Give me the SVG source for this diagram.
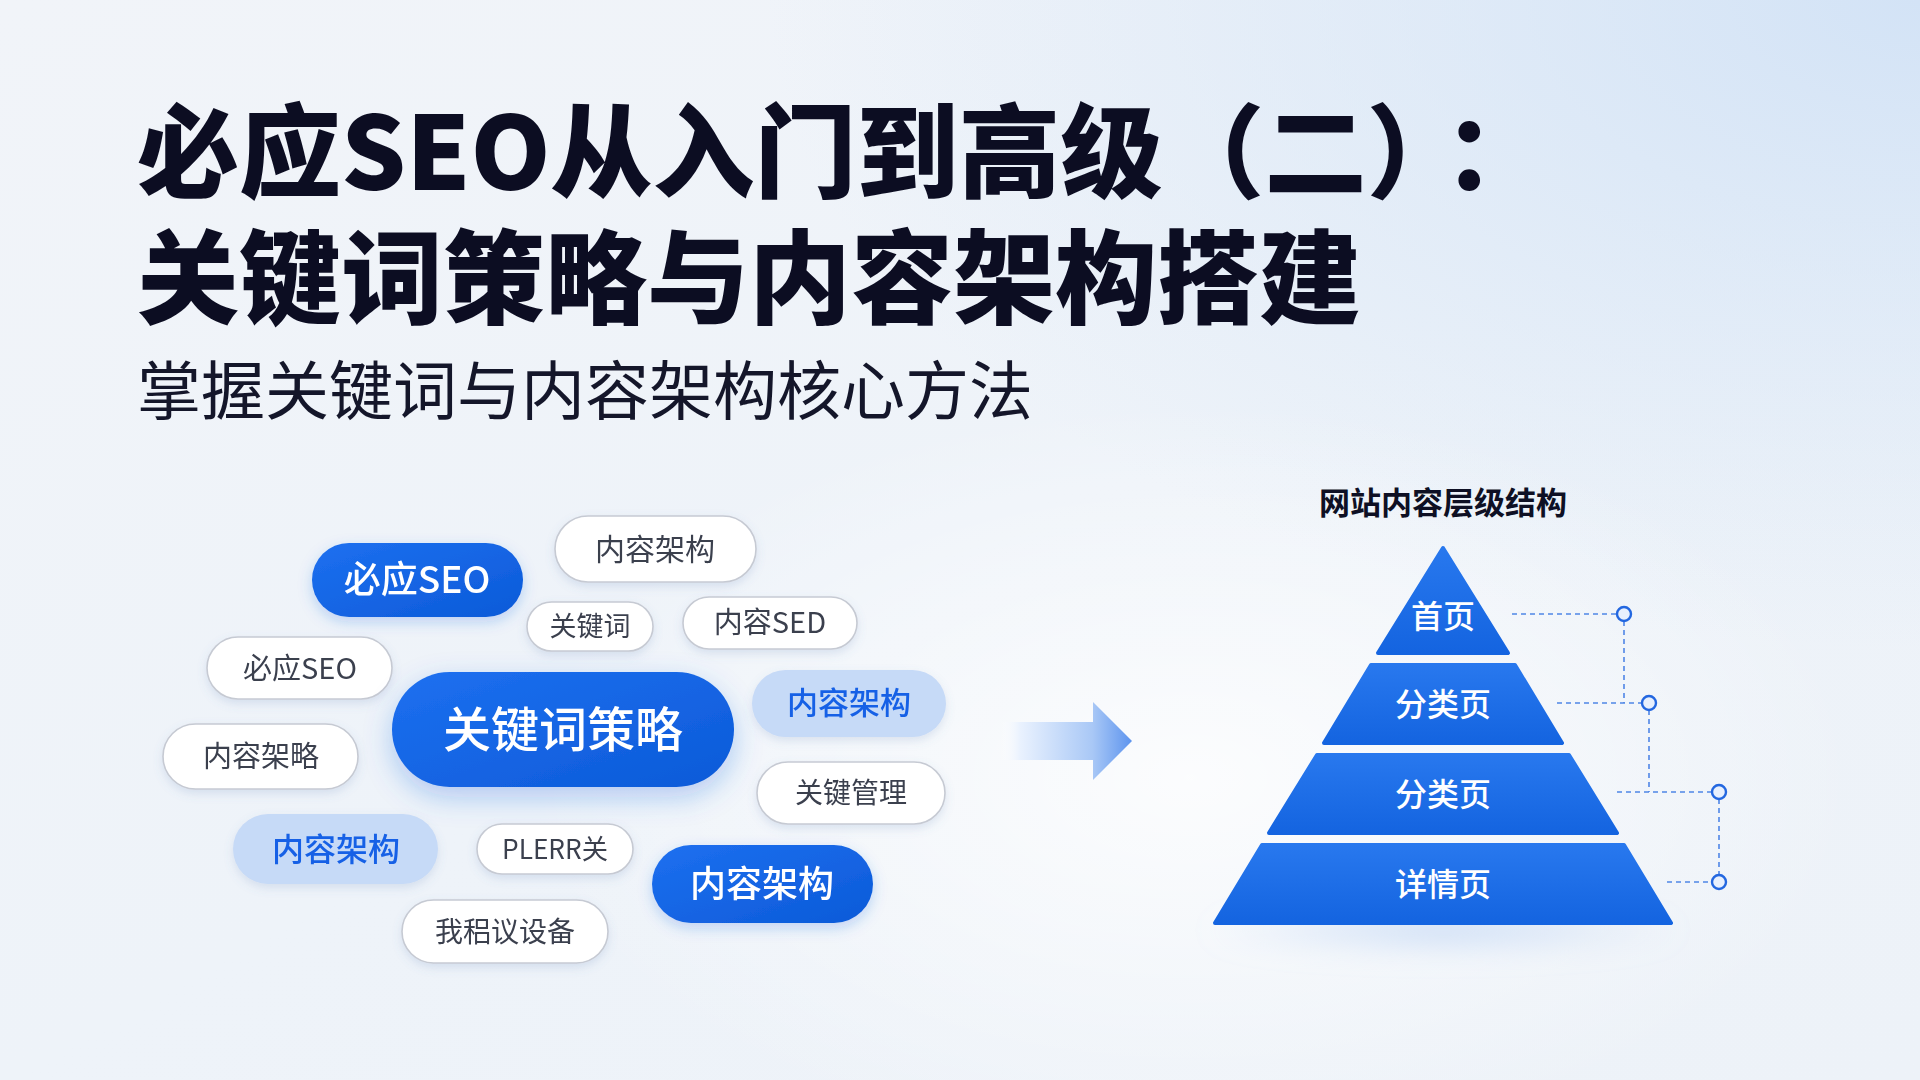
<svg xmlns="http://www.w3.org/2000/svg" width="1920" height="1080" viewBox="0 0 1920 1080">
<defs>
<linearGradient id="bg" x1="0" y1="0" x2="1" y2="1">
<stop offset="0" stop-color="#f1f4f9"/>
<stop offset="0.5" stop-color="#eef3f9"/>
<stop offset="1" stop-color="#edf2f8"/>
</linearGradient>
<radialGradient id="bgTR" cx="1" cy="0" r="0.6">
<stop offset="0" stop-color="#d3e3f6"/>
<stop offset="1" stop-color="#d6e5f6" stop-opacity="0"/>
</radialGradient>
<radialGradient id="bgHaze" cx="0.62" cy="0.72" r="0.35">
<stop offset="0" stop-color="#ffffff" stop-opacity="0.8"/>
<stop offset="1" stop-color="#ffffff" stop-opacity="0"/>
</radialGradient>
<linearGradient id="blueFill" x1="0" y1="0" x2="1" y2="1">
<stop offset="0" stop-color="#1d70f0"/>
<stop offset="1" stop-color="#0c5ad8"/>
</linearGradient>
<linearGradient id="tierFill" x1="0" y1="0" x2="0" y2="1">
<stop offset="0" stop-color="#2878ee"/>
<stop offset="1" stop-color="#1464e0"/>
</linearGradient>
<linearGradient id="arrowFill" x1="0" y1="0" x2="1" y2="0">
<stop offset="0" stop-color="#ffffff" stop-opacity="0"/>
<stop offset="0.15" stop-color="#eaf2fe"/>
<stop offset="0.7" stop-color="#a9c8f6"/>
<stop offset="1" stop-color="#5d94ee"/>
</linearGradient>
<radialGradient id="pyrShadow" cx="0.5" cy="0.5" r="0.5">
<stop offset="0" stop-color="#b9d1f4" stop-opacity="0.8"/>
<stop offset="1" stop-color="#b9d1f4" stop-opacity="0"/>
</radialGradient>
<filter id="softShadow" x="-20%" y="-30%" width="140%" height="170%">
<feDropShadow dx="0" dy="4" stdDeviation="5" flood-color="#5a7fb8" flood-opacity="0.18"/>
</filter>
<filter id="blueShadow" x="-20%" y="-30%" width="140%" height="180%">
<feDropShadow dx="0" dy="10" stdDeviation="14" flood-color="#1a66e0" flood-opacity="0.3"/>
</filter>
<filter id="blueShadowSm" x="-20%" y="-30%" width="140%" height="180%">
<feDropShadow dx="0" dy="5" stdDeviation="7" flood-color="#1a66e0" flood-opacity="0.25"/>
</filter>
<filter id="blur20" x="-30%" y="-100%" width="160%" height="300%">
<feGaussianBlur stdDeviation="14"/>
</filter>
</defs>
<style>
.cjk{font-family:"Noto Sans CJK SC","Noto Sans",sans-serif;}
.title{font-size:102px;font-weight:900;fill:#0c0d22;}
.sub{font-size:64px;font-weight:400;fill:#14162a;}
.pillW{fill:#ffffff;stroke:#c6cad3;stroke-width:1.6;}
.pillB{fill:url(#blueFill);}
.pillL{fill:#c6daf7;}
.tW{fill:#3a3f4e;font-weight:400;text-anchor:middle;}
.tB{fill:#ffffff;font-weight:500;text-anchor:middle;}
.tL{fill:#1561e6;font-weight:500;text-anchor:middle;}
.tier{fill:url(#tierFill);stroke:url(#tierFill);stroke-width:4;stroke-linejoin:round;}
.tierT{fill:#ffffff;font-size:32px;font-weight:500;text-anchor:middle;}
.dash{stroke:#4f86e6;stroke-width:1.6;stroke-dasharray:5 4;fill:none;}
.dot{fill:#e8f0fd;stroke:#2367e0;stroke-width:2.4;}
</style>
<rect width="1920" height="1080" fill="url(#bg)"/>
<rect width="1920" height="1080" fill="url(#bgTR)"/>
<rect width="1920" height="1080" fill="url(#bgHaze)"/>

<g id="title">
<text class="cjk title" x="137" y="190">必应SEO从入门到高级（二）<tspan dx="26">：</tspan></text>
<text class="cjk title" x="137" y="316">关键词策略与内容架构搭建</text>
<text class="cjk sub" x="137" y="414">掌握关键词与内容架构核心方法</text>
</g>

<g id="keyword-cloud">
<g id="pill-biying-seo-blue" filter="url(#blueShadowSm)">
<rect class="pillB" x="312" y="543" width="211" height="74" rx="37"/>
<text class="cjk tB" x="417" y="593" font-size="37">必应SEO</text>
</g>
<g id="pill-neirong-top" filter="url(#softShadow)">
<rect class="pillW" x="555" y="516" width="201" height="66" rx="33"/>
<text class="cjk tW" x="655" y="560" font-size="30">内容架构</text>
</g>
<g id="pill-guanjianci" filter="url(#softShadow)">
<rect class="pillW" x="527" y="602" width="126" height="49" rx="24.5"/>
<text class="cjk tW" x="590" y="636" font-size="27">关键词</text>
</g>
<g id="pill-neirong-sed" filter="url(#softShadow)">
<rect class="pillW" x="683" y="597" width="174" height="52" rx="26"/>
<text class="cjk tW" x="770" y="633" font-size="29">内容SED</text>
</g>
<g id="pill-biying-seo-white" filter="url(#softShadow)">
<rect class="pillW" x="207" y="637" width="185" height="62" rx="31"/>
<text class="cjk tW" x="300" y="679" font-size="29">必应SEO</text>
</g>
<g id="pill-main" filter="url(#blueShadow)">
<rect class="pillB" x="392" y="672" width="342" height="115" rx="57.5"/>
<text class="cjk tB" x="563" y="747" font-size="48" font-weight="700">关键词策略</text>
</g>
<g id="pill-neirong-light-right" filter="url(#softShadow)">
<rect class="pillL" x="752" y="670" width="194" height="67" rx="33.5"/>
<text class="cjk tL" x="849" y="714" font-size="31">内容架构</text>
</g>
<g id="pill-neirong-jialue" filter="url(#softShadow)">
<rect class="pillW" x="163" y="724" width="195" height="65" rx="32.5"/>
<text class="cjk tW" x="261" y="767" font-size="29">内容架略</text>
</g>
<g id="pill-guanjian-guanli" filter="url(#softShadow)">
<rect class="pillW" x="757" y="762" width="188" height="62" rx="31"/>
<text class="cjk tW" x="851" y="803" font-size="28">关键管理</text>
</g>
<g id="pill-neirong-light-left" filter="url(#softShadow)">
<rect class="pillL" x="233" y="814" width="205" height="70" rx="35"/>
<text class="cjk tL" x="336" y="861" font-size="32">内容架构</text>
</g>
<g id="pill-plerr" filter="url(#softShadow)">
<rect class="pillW" x="477" y="824" width="156" height="50" rx="25"/>
<text class="cjk tW" x="555" y="859" font-size="27" textLength="106" lengthAdjust="spacingAndGlyphs">PLERR关</text>
</g>
<g id="pill-neirong-blue-bottom" filter="url(#blueShadowSm)">
<rect class="pillB" x="652" y="845" width="221" height="78" rx="39"/>
<text class="cjk tB" x="762" y="897" font-size="36">内容架构</text>
</g>
<g id="pill-woshe" filter="url(#softShadow)">
<rect class="pillW" x="402" y="900" width="206" height="63" rx="31.5"/>
<text class="cjk tW" x="505" y="942" font-size="28">我稆议设备</text>
</g>
</g>

<g id="connectors">
<path id="flow-arrow" d="M1000 722 H1093 V702 L1132 741 L1093 780 V760 H1000 Z" fill="url(#arrowFill)"/>
<line class="dash" x1="1512" y1="614" x2="1617" y2="614"/>
<line class="dash" x1="1624" y1="621" x2="1624" y2="703"/>
<line class="dash" x1="1557" y1="703" x2="1642" y2="703"/>
<line class="dash" x1="1649" y1="710" x2="1649" y2="792"/>
<line class="dash" x1="1617" y1="792" x2="1712" y2="792"/>
<line class="dash" x1="1719" y1="799" x2="1719" y2="875"/>
<line class="dash" x1="1667" y1="882" x2="1712" y2="882"/>
</g>

<g id="pyramid">
<ellipse cx="1443" cy="930" rx="240" ry="22" fill="url(#pyrShadow)" filter="url(#blur20)"/>
<text class="cjk" x="1443" y="514" font-size="31" font-weight="700" fill="#0e1024" text-anchor="middle">网站内容层级结构</text>
<g id="tier-home">
<polygon class="tier" points="1443,548 1508,653 1378,653"/>
<text class="cjk tierT" x="1443" y="628">首页</text>
</g>
<g id="tier-category-1">
<polygon class="tier" points="1371,665 1515,665 1562,743 1324,743"/>
<text class="cjk tierT" x="1443" y="716">分类页</text>
</g>
<g id="tier-category-2">
<polygon class="tier" points="1317,755 1569,755 1617,833 1269,833"/>
<text class="cjk tierT" x="1443" y="806">分类页</text>
</g>
<g id="tier-detail">
<polygon class="tier" points="1262,845 1624,845 1671,923 1215,923"/>
<text class="cjk tierT" x="1443" y="896">详情页</text>
</g>
<circle class="dot" cx="1624" cy="614" r="7"/>
<circle class="dot" cx="1649" cy="703" r="7"/>
<circle class="dot" cx="1719" cy="792" r="7"/>
<circle class="dot" cx="1719" cy="882" r="7"/>
</g>
</svg>
